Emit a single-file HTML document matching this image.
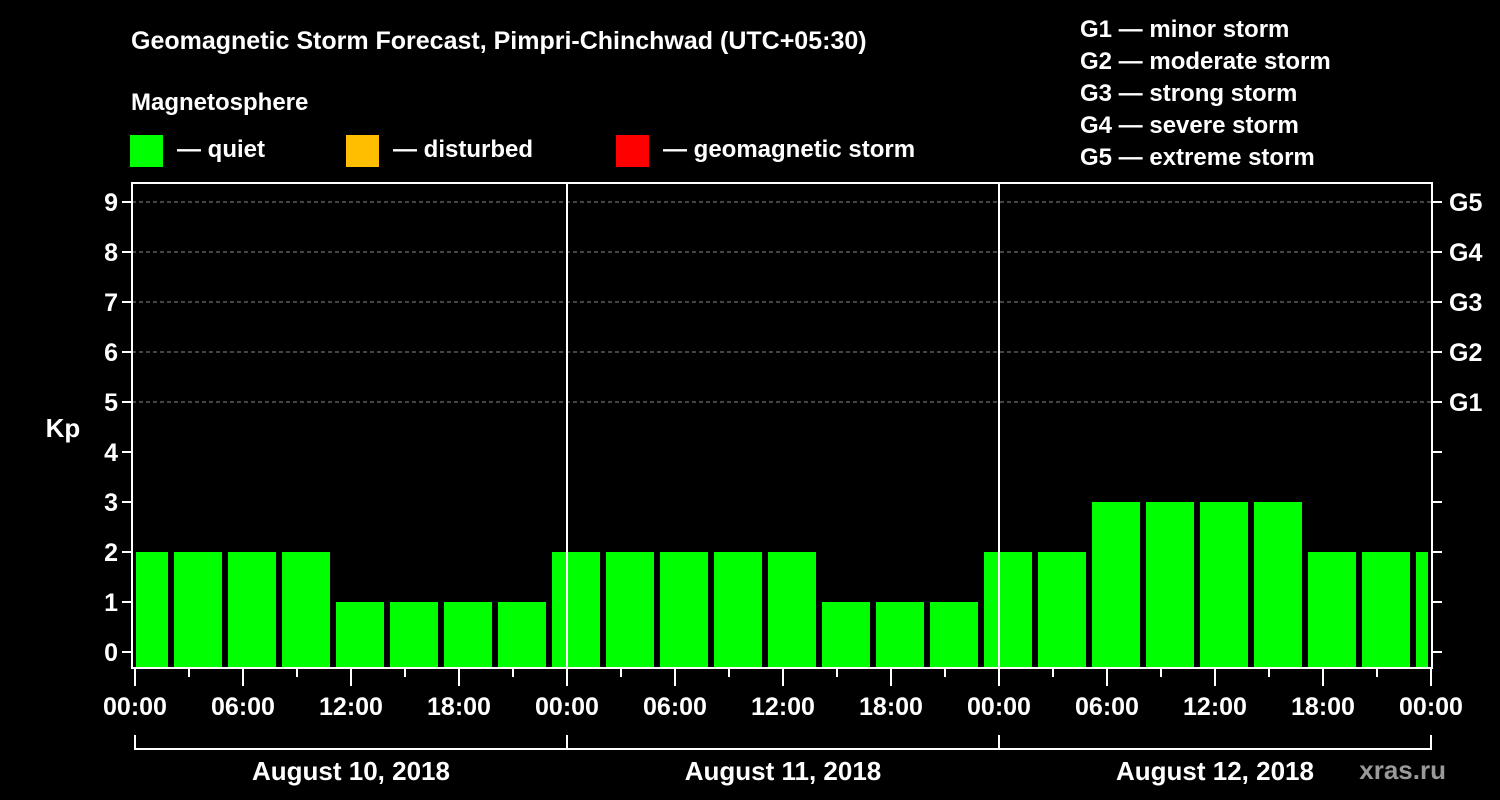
<!DOCTYPE html>
<html><head><meta charset="utf-8"><style>
body{margin:0;background:#000;width:1500px;height:800px;overflow:hidden}
svg{display:block;font-family:"Liberation Sans",sans-serif;font-weight:bold;fill:#fff}
</style></head><body>
<svg id="c" width="1500" height="800">
<text x="131" y="49" font-size="25">Geomagnetic Storm Forecast, Pimpri-Chinchwad (UTC+05:30)</text>
<text x="131" y="110" font-size="24">Magnetosphere</text>
<rect x="130" y="135" width="33" height="32" fill="#00ff00"/>
<text x="177" y="157" font-size="24">— quiet</text>
<rect x="346" y="135" width="33" height="32" fill="#ffbf00"/>
<text x="393" y="157" font-size="24">— disturbed</text>
<rect x="616" y="135" width="33" height="32" fill="#ff0000"/>
<text x="663" y="157" font-size="24">— geomagnetic storm</text>
<g font-size="24">
<text x="1080" y="37">G1 — minor storm</text>
<text x="1080" y="69">G2 — moderate storm</text>
<text x="1080" y="101">G3 — strong storm</text>
<text x="1080" y="133">G4 — severe storm</text>
<text x="1080" y="165">G5 — extreme storm</text>
</g>
<text x="63" y="437" font-size="26" text-anchor="middle">Kp</text>
<text x="1446" y="779" font-size="26" text-anchor="end" fill="#888" style="fill:#999">xras.ru</text>
<g id="g"></g>
</svg>
<script>
const kpValues=[2,2,2,2,1,1,1,1,2,2,2,2,2,1,1,1,2,2,3,3,3,3,2,2,2];
const kpTicks=[0,1,2,3,4,5,6,7,8,9];
const gLabels=["G1","G2","G3","G4","G5"];
const gLevels=[5,6,7,8,9];
const hourLabels=["00:00","06:00","12:00","18:00","00:00","06:00","12:00","18:00","00:00","06:00","12:00","18:00","00:00"];
const dayLabels=["August 10, 2018","August 11, 2018","August 12, 2018"];
const firstIntervalHour=-1, intervalHours=3, totalHours=72;
const L=132,R=1432,T=183,B=668;
const X=h=>135+h*(1296/totalHours);
const Y=v=>652-v*50;
const g=document.getElementById('g');
const NS='http://www.w3.org/2000/svg';
function mk(t,a){const e=document.createElementNS(NS,t);for(const k in a)e.setAttribute(k,a[k]);g.appendChild(e);return e;}
kpTicks.forEach(v=>{
  if(v>=5){const l=mk('line',{x1:L,x2:R,y1:Y(v),y2:Y(v),stroke:'#888','stroke-dasharray':'4,3','stroke-width':1});
  
  }
  const t=mk('line',{x1:L-10,x2:L,y1:Y(v),y2:Y(v),stroke:'#fff','stroke-width':2});
  
  
  const t2=mk('line',{x1:R,x2:R+10,y1:Y(v),y2:Y(v),stroke:'#fff','stroke-width':2});
  
  
  const tx=mk('text',{x:L-14,y:Y(v)+9,'font-size':25,'text-anchor':'end'});tx.textContent=v;
  
  
});
gLabels.forEach((s,i)=>{const tx=mk('text',{x:R+17,y:Y(gLevels[i])+9,'font-size':25});tx.textContent=s;
  
  });
kpValues.forEach((v,i)=>{
  const h0=firstIntervalHour+i*intervalHours;
  let x0=X(h0)+3,x1=X(h0+intervalHours)-3;
  x0=Math.max(x0,L+4);x1=Math.min(x1,R-4);
  if(x1<=x0)return;
  const c=v>=5?'#ff0000':(v>=4?'#ffbf00':'#00ff00');
  const r=mk('rect',{x:x0,y:Y(v),width:x1-x0,height:B-Y(v),fill:c});
  
  
});
[1,2].forEach(d=>{const l=mk('line',{x1:X(d*24),x2:X(d*24),y1:T,y2:B,stroke:'#fff','stroke-width':2});
  
  });
const fr=mk('rect',{x:L,y:T,width:R-L,height:B-T,fill:'none',stroke:'#fff','stroke-width':2});


for(let h=0;h<=totalHours;h+=3){
  const maj=h%6===0;
  const t=mk('line',{x1:X(h),x2:X(h),y1:B,y2:B+(maj?18:9),stroke:'#fff','stroke-width':2});
  
  
}
hourLabels.forEach((s,i)=>{const tx=mk('text',{x:X(i*6),y:715,'font-size':25,'text-anchor':'middle'});tx.textContent=s;
  
  });
dayLabels.forEach((s,i)=>{
  const p=mk('path',{d:`M${X(i*24)},735V749H${X(i*24+24)}${i==2?'V735':''}`,fill:'none',stroke:'#fff','stroke-width':2});
  
  
  const tx=mk('text',{x:X(i*24+12),y:780,'font-size':26,'text-anchor':'middle'});tx.textContent=s;
  
  
});
</script>
</body></html>
